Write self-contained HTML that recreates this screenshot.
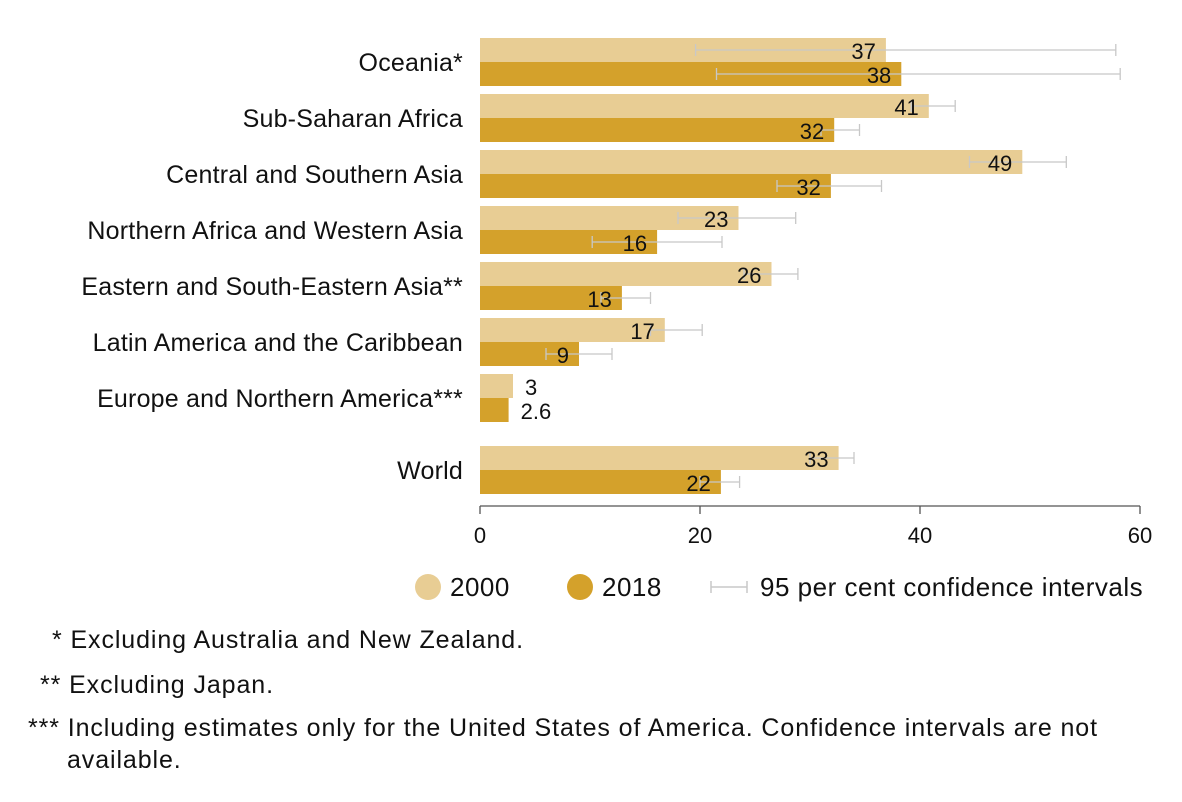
<!DOCTYPE html>
<html><head><meta charset="utf-8"><style>
body{margin:0;background:#fff;width:1182px;height:797px;overflow:hidden;font-family:"Liberation Sans",sans-serif}
svg text{font-family:"Liberation Sans",sans-serif}
</style></head><body>
<svg id="chart" width="1182" height="797" xmlns="http://www.w3.org/2000/svg">
<g id="plot"></g>
<g>
<circle cx="428" cy="587" r="13" fill="#e8cd94"/>
<text x="450" y="596" font-size="26" letter-spacing="0.5" fill="#111">2000</text>
<circle cx="580" cy="587" r="13" fill="#d4a12b"/>
<text x="602" y="596" font-size="26" letter-spacing="0.5" fill="#111">2018</text>
<g stroke="#c8c8c8" stroke-width="1.5"><line x1="711" y1="587" x2="747" y2="587"/><line x1="711" y1="581" x2="711" y2="593"/><line x1="747" y1="581" x2="747" y2="593"/></g>
<text x="760" y="596" font-size="26" letter-spacing="0.5" fill="#111">95 per cent confidence intervals</text>
</g>
<g font-size="25" letter-spacing="0.9" fill="#111">
<text x="52" y="648">* Excluding Australia and New Zealand.</text>
<text x="40" y="693">** Excluding Japan.</text>
<text x="28" y="736">*** Including estimates only for the United States of America. Confidence intervals are not</text>
<text x="67" y="768">available.</text>
</g>
</svg>
<script>
const categories=["Oceania*","Sub-Saharan Africa","Central and Southern Asia","Northern Africa and Western Asia","Eastern and South-Eastern Asia**","Latin America and the Caribbean","Europe and Northern America***","World"];
const values2000=[36.9,40.8,49.3,23.5,26.5,16.8,3.0,32.6];
const values2018=[38.3,32.2,31.9,16.1,12.9,9.0,2.6,21.9];
const labels2000=["37","41","49","23","26","17","3","33"];
const labels2018=["38","32","32","16","13","9","2.6","22"];
const ciLow2000=[19.6,39.2,44.5,18,24,15.5,null,30];
const ciHigh2000=[57.8,43.2,53.3,28.7,28.9,20.2,null,34];
const ciLow2018=[21.5,31,27,10.2,11,6,null,20];
const ciHigh2018=[58.2,34.5,36.5,22,15.5,12,null,23.6];
const ticks=[0,20,40,60];
const NS="http://www.w3.org/2000/svg";
const g=document.getElementById('plot');
const x=v=>480+v*11;
const rowY=i=>38+i*56+(i===7?16:0);
function el(t,a,p){const e=document.createElementNS(NS,t);for(const k in a)e.setAttribute(k,a[k]);(p||g).appendChild(e);return e;}
categories.forEach((c,i)=>{
 const y=rowY(i);
 const t=el('text',{x:463,y:y+33,'font-size':25,'letter-spacing':0.2,'text-anchor':'end',fill:'#111'});t.textContent=c;
 
 
 [[values2000,labels2000,ciLow2000,ciHigh2000,'#e8cd94',0,'2000'],[values2018,labels2018,ciLow2018,ciHigh2018,'#d4a12b',24,'2018']].forEach(s=>{
  const v=s[0][i],yy=y+s[5];
  const r=el('rect',{x:480,y:yy,width:x(v)-480,height:24,fill:s[4]});
  
  
  if(s[2][i]!=null){
   const e=el('g',{stroke:'#c8c8c8','stroke-width':1.3});
   
   
   const cy=yy+12;
   el('line',{x1:x(s[2][i]),x2:x(s[3][i]),y1:cy,y2:cy},e);
   el('line',{x1:x(s[2][i]),x2:x(s[2][i]),y1:cy-6,y2:cy+6},e);
   el('line',{x1:x(s[3][i]),x2:x(s[3][i]),y1:cy-6,y2:cy+6},e);
  }
  const small=v<6;
  const lt=el('text',{x:small?x(v)+12:x(v)-10,y:yy+21,'font-size':22,'text-anchor':small?'start':'end',fill:'#111'});
  lt.textContent=s[1][i];
  
  
 });
});
const ax=el('line',{x1:480,x2:1140,y1:506,y2:506,stroke:'#555','stroke-width':1.3});


ticks.forEach(t=>{
 const tk=el('line',{x1:x(t),x2:x(t),y1:506,y2:514,stroke:'#555','stroke-width':1.3});
 
 
 const tl=el('text',{x:x(t),y:543,'font-size':22,'text-anchor':'middle',fill:'#111'});tl.textContent=t;
 
 
});
</script>
</body></html>
